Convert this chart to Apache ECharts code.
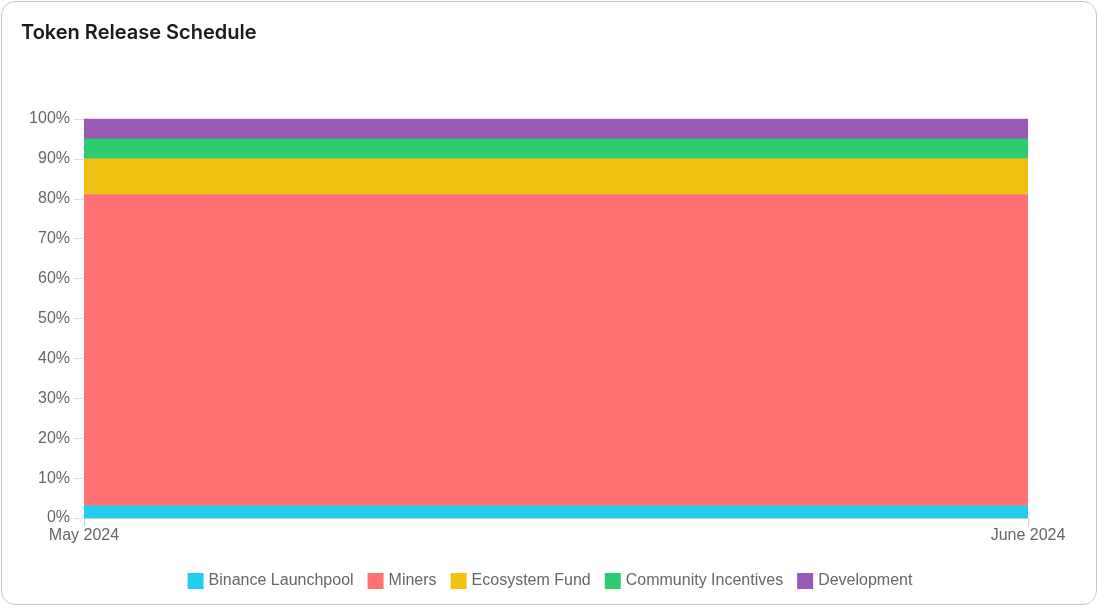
<!DOCTYPE html>
<html>
<head>
<meta charset="utf-8">
<script src="https://cdn.jsdelivr.net/npm/echarts@6/dist/echarts.min.js"></script>
<style>
  html, body { margin: 0; padding: 0; background: #fff; }
  .card { position: absolute; left: 1px; top: 1px; width: 1096px; height: 604px; border: 1px solid #c8c8c8; border-radius: 14px; box-sizing: border-box; }
  #chart { position: absolute; left: 0; top: 0; width: 1100px; height: 608px; }
</style>
</head>
<body>
<div class="card"></div>
<div id="chart"></div>
<script>
const dates = ["May 2024", "June 2024"];
const seriesNames = ["Binance Launchpool", "Miners", "Ecosystem Fund", "Community Incentives", "Development"];
const colors = ["#22cdf2", "#ff7173", "#f1c112", "#2ecc71", "#9b59b6"];
const launchpool = [3, 3];
const miners = [78, 78];
const ecosystem = [9, 9];
const community = [5, 5];
const development = [5, 5];
const values = [launchpool, miners, ecosystem, community, development];

const chart = echarts.init(document.getElementById("chart"));
chart.setOption({
  title: {
    text: "Token Release Schedule",
    left: 16, top: 18,
    textStyle: { fontFamily: "Inter", fontSize: 20, fontWeight: 600, color: "#1a1a1a" }
  },
  legend: {
    bottom: 14, left: "center",
    itemWidth: 16, itemHeight: 16, itemGap: 14,
    icon: "rect",
    textStyle: { fontFamily: "Liberation Sans", fontSize: 16, color: "#666" },
    data: seriesNames
  },
  grid: { left: 84, right: 72, top: 119, bottom: 90 },
  xAxis: {
    type: "category", boundaryGap: false, data: dates,
    axisLine: { lineStyle: { color: "#ccc" } },
    axisTick: { show: true, length: 8, lineStyle: { color: "#ccc" } },
    axisLabel: { fontFamily: "Liberation Sans", fontSize: 16, color: "#666", margin: 10 }
  },
  yAxis: {
    type: "value", min: 0, max: 100, interval: 10,
    axisLine: { show: false },
    axisTick: { show: true, length: 10, lineStyle: { color: "#ddd" } },
    splitLine: { show: false },
    axisLabel: { formatter: "{value}%", fontFamily: "Liberation Sans", fontSize: 16, color: "#666", margin: 14 }
  },
  series: seriesNames.map((n, i) => ({
    name: n, type: "line", stack: "total", data: values[i],
    symbol: "none",
    lineStyle: { width: 1, color: colors[i] },
    itemStyle: { color: colors[i] },
    areaStyle: { color: colors[i], opacity: 1 }
  }))
});
</script>
</body>
</html>
